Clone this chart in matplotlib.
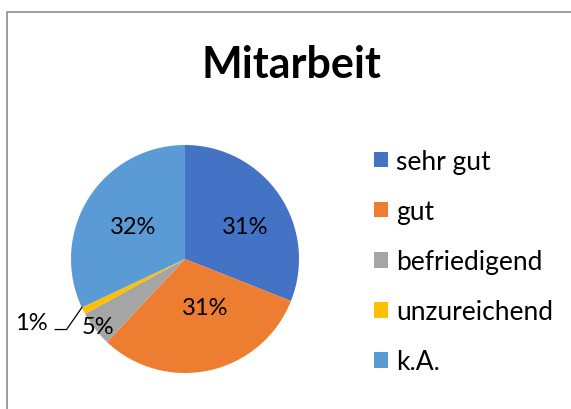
import numpy as np
import matplotlib.pyplot as plt
from matplotlib.lines import Line2D

# data
categories = ["sehr gut", "gut", "befriedigend", "unzureichend", "k.A."]
shares = [31, 31, 5, 1, 32]
colors = ["#4472C4", "#ED7D31", "#A5A5A5", "#FFC000", "#5B9BD5"]

# label placement (radius, angle offset from slice middle in degrees)
label_pos = [(0.60, -6), (0.46, 10), (0.97, 0), (1.46, -4.5), (0.54, 0)]

plt.rcParams["font.family"] = ["Lato", "DejaVu Sans"]

fig = plt.figure(figsize=(5.71, 4.10), dpi=100)
W, H = 571, 410

# pie axes: center (185, 260), radius 114 px
ax = fig.add_axes([71 / W, (H - 374) / H, 228 / W, 228 / H])
wedges, _ = ax.pie(shares, colors=colors, startangle=90, counterclock=False,
                   radius=1, wedgeprops=dict(linewidth=0))
ax.set_xlim(-1, 1)
ax.set_ylim(-1, 1)
ax.set_aspect("equal")
ax.axis("off")

total = sum(shares)
start = 90.0
for i, v in enumerate(shares):
    span = 360.0 * v / total
    mid = start - span / 2
    r, off = label_pos[i]
    a = np.radians(mid + off)
    x, y = r * np.cos(a), r * np.sin(a)
    ax.text(x, y, f"{v}%", ha="center", va="center", fontsize=17, color="black")
    if i == 3:
        # leader line for the small slice
        edge = np.radians(start - span)
        ex, ey = np.cos(edge), np.sin(edge)
        ax.add_line(Line2D([x + 0.21, x + 0.31, ex], [y - 0.06, y - 0.06, ey],
                           color="black", linewidth=0.9, clip_on=False))
    start -= span

fig.text(291 / W, 1 - 78 / H, "Mitarbeit", ha="center", va="baseline",
         fontsize=31, fontweight="bold")

leg = fig.legend(wedges, categories, loc="upper left",
                 bbox_to_anchor=(374 / W, 1 - 150 / H), frameon=False,
                 fontsize=19, labelspacing=0.95, handlelength=0.53,
                 handleheight=0.53, handletextpad=0.3, borderpad=0,
                 borderaxespad=0)

# chart border (only left and top visible)
fig.add_artist(Line2D([6.5 / W, 6.5 / W, 1.0], [0, 1 - 12.5 / H, 1 - 12.5 / H],
                      transform=fig.transFigure, color="#8c8c8c", linewidth=1.2))

fig.savefig("out.png", dpi=100)
